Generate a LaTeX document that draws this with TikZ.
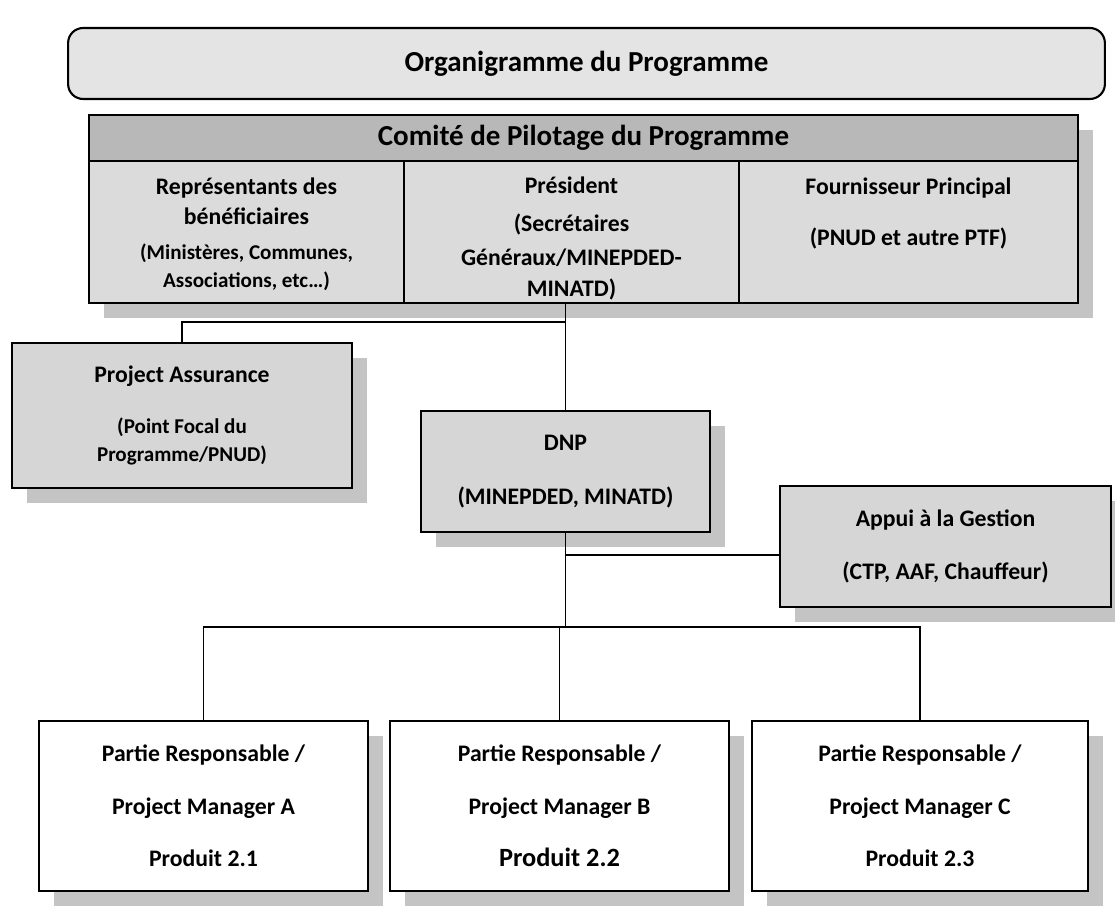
\documentclass[tikz,border=0pt]{standalone}
\usepackage{fontspec}
\setmainfont{Carlito}
\usetikzlibrary{shadows}

\definecolor{fondTitre}{HTML}{E4E4E4}
\definecolor{fondEntete}{HTML}{B8B8B8}
\definecolor{fondCellule}{HTML}{DBDBDB}
\definecolor{fondBoite}{HTML}{D6D6D6}
\definecolor{grisOmbre}{HTML}{C4C4C4}

\newcommand\grandtxt{\bfseries\fontsize{16.5}{19}\selectfont}
\newcommand\petittxt{\fontsize{12}{14}\selectfont}

\begin{document}
\begin{tikzpicture}[
    x=0.02cm, y=-0.02cm,
    every node/.style={text=black, font=\bfseries\fontsize{13.5}{16}\selectfont},
    box/.style={draw=black, line width=1.2pt, inner sep=0pt, align=center},
    ombre/.style={general shadow={fill=grisOmbre, shadow xshift=0.3cm, shadow yshift=-0.3cm}},
    lien/.style={line width=0.9pt, black}
]
    \useasboundingbox (0,0) rectangle (1115,912);

    % ==========================
    % TITLE AND STEERING COMMITTEE
    % ==========================
    \node[box, rounded corners=0.3cm, fill=fondTitre, minimum width=20.74cm,
          minimum height=1.42cm, font=\grandtxt] (titre) at (586.5,63.5)
          {Organigramme du Programme};

    \node[box, ombre, fill=fondEntete, minimum width=19.78cm, minimum height=0.92cm,
          font=\grandtxt] (comite) at (583.5,138) {Comité de Pilotage du Programme};

    % the three cells of the committee (text is set apart, top aligned)
    \foreach \nom/\cx/\w in {benef/246.5/6.3cm, pres/571.5/6.7cm, fourn/908.5/6.78cm}
    {
        \node[box, ombre, fill=fondCellule, minimum width=\w, minimum height=2.84cm]
            (\nom) at (\cx,232) {};
    }

    \node[anchor=north, align=center, inner sep=0pt] (benefTxt) at ([yshift=-0.35cm]benef.north)
        {Représentants des\\[1pt] bénéficiaires\\[4pt]
         {\petittxt (Ministères, Communes,}\\[0pt] {\petittxt Associations, etc…)}};
    \node[anchor=north, align=center, inner sep=0pt] (presTxt) at ([yshift=-0.33cm]pres.north)
        {Président\\[5.5pt] (Secrétaires\\[3.3pt] Généraux/MINEPDED-\\[1.6pt] MINATD)};
    \node[anchor=north, align=center, inner sep=0pt] (fournTxt) at ([yshift=-0.35cm]fourn.north)
        {Fournisseur Principal\\[13pt] (PNUD et autre PTF)};

    % ==========================
    % MIDDLE LEVEL
    % ==========================
    \node[box, ombre, fill=fondBoite, minimum width=6.8cm, minimum height=2.9cm]
        (pa) at (182,415.5)
        {Project Assurance\\[13pt] {\petittxt (Point Focal du}\\[0pt] {\petittxt Programme/PNUD)}};

    \node[box, ombre, fill=fondBoite, minimum width=5.78cm, minimum height=2.42cm]
        (dnp) at (565.5,471.5) {DNP\\[15pt] (MINEPDED, MINATD)};

    \node[box, ombre, fill=fondBoite, minimum width=6.62cm, minimum height=2.42cm]
        (appui) at (945.5,546.5) {Appui à la Gestion\\[14.6pt] (CTP, AAF, Chauffeur)};

    % ==========================
    % RESPONSIBLE PARTIES
    % ==========================
    \foreach \nom/\cx/\w/\lettre/\num/\taille in {
        pmA/203.5/6.58cm/A/1/13.5,
        pmB/559.5/6.78cm/B/2/15,
        pmC/920/6.72cm/C/3/13.5}
    {
        \node[box, ombre, fill=white, minimum width=\w, minimum height=3.4cm]
            (\nom) at (\cx,806)
            {Partie Responsable /\\[14pt] Project Manager \lettre\\[14pt]
             {\fontsize{\taille}{18}\selectfont Produit 2.\num}};
    }

    % ==========================
    % CONNECTORS
    % ==========================
    \draw[lien] (dnp.north) -- (dnp.north |- pres.south);
    \draw[lien] (pa.north) -- ++(0,-20) -| (dnp.north);

    \coordinate (bus) at (565.5,627);
    \draw[lien] (dnp.south) -- (bus);
    \foreach \p in {pmA, pmB, pmC}
        \draw[lien] (\p.north) |- (bus);

    \coordinate (appuiEntree) at ([yshift=-0.17cm]appui.west);
    \draw[lien] (appuiEntree) -- (appuiEntree -| dnp.south);

\end{tikzpicture}
\end{document}
